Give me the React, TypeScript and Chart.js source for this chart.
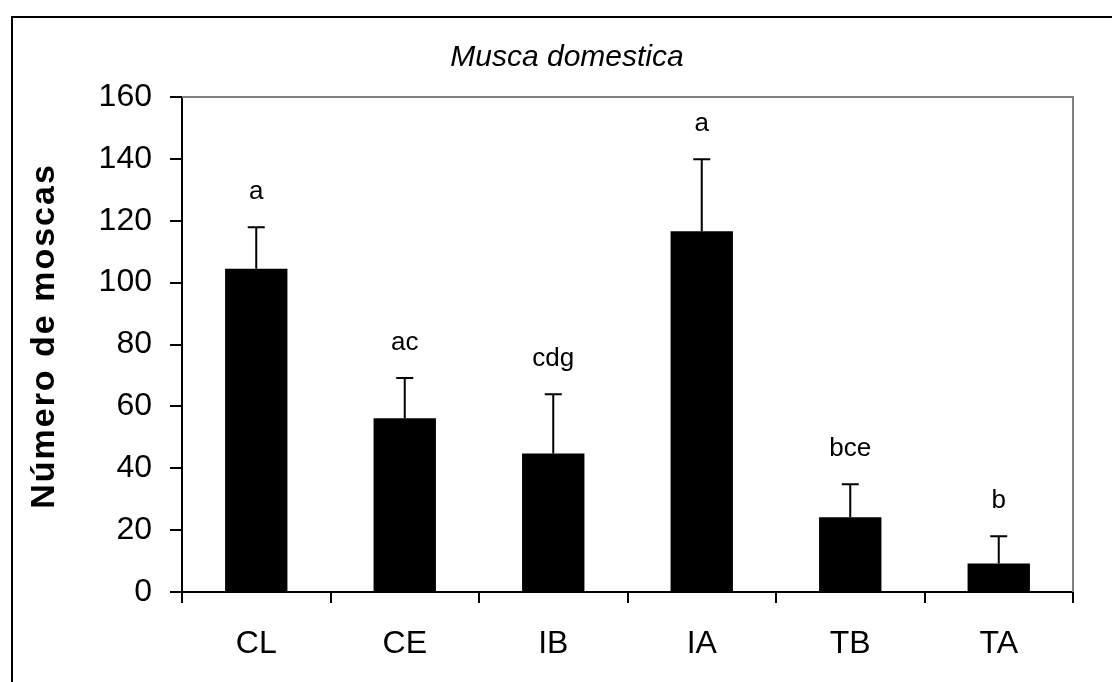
import React, { useEffect, useRef } from "react";
import { Chart, registerables } from "chart.js";

Chart.register(...registerables);

const categories = ["CL", "CE", "IB", "IA", "TB", "TA"];
const means = [104.5, 56.2, 44.8, 116.6, 24.2, 9.2];
const errors = [13.4, 13.0, 19.1, 23.3, 10.6, 8.8];
const letters = ["a", "ac", "cdg", "a", "bce", "b"];
const yTicks = [0, 20, 40, 60, 80, 100, 120, 140, 160];
const chartTitle = "Musca domestica";
const yTitle = "Número de moscas";

const FONT = "'Liberation Sans', Arial, sans-serif";

const decorPlugin = {
  id: "decor",
  beforeDraw(chart: any) {
    const ctx = chart.ctx;
    ctx.save();
    ctx.fillStyle = "#fff";
    ctx.fillRect(0, 0, chart.width, chart.height);
    ctx.strokeStyle = "#000";
    ctx.lineWidth = 2;
    ctx.strokeRect(12, 17, 3000, 3000);
    ctx.restore();
  },
  afterDraw(chart: any) {
    const ctx = chart.ctx;
    const area = chart.chartArea;
    const y = chart.scales.y;
    ctx.save();
    // gray top and right frame
    ctx.strokeStyle = "#808080";
    ctx.lineWidth = 2;
    ctx.beginPath();
    ctx.moveTo(area.left, area.top);
    ctx.lineTo(area.right, area.top);
    ctx.lineTo(area.right, area.bottom);
    ctx.stroke();

    // error bars and letters
    const meta = chart.getDatasetMeta(0);
    ctx.strokeStyle = "#000";
    ctx.lineWidth = 2;
    ctx.fillStyle = "#000";
    ctx.font = `26px ${FONT}`;
    ctx.textAlign = "center";
    ctx.textBaseline = "alphabetic";
    meta.data.forEach((bar: any, i: number) => {
      const cx = bar.x;
      const yTop = y.getPixelForValue(means[i]);
      const yCap = y.getPixelForValue(means[i] + errors[i]);
      ctx.beginPath();
      ctx.moveTo(cx, yTop);
      ctx.lineTo(cx, yCap);
      ctx.moveTo(cx - 8.5, yCap);
      ctx.lineTo(cx + 8.5, yCap);
      ctx.stroke();
      ctx.fillText(letters[i], cx, yCap - 28);
    });

    // chart title
    ctx.font = `italic 30px ${FONT}`;
    ctx.fillText(chartTitle, 567, 66);

    // y title
    ctx.translate(54, 336);
    ctx.rotate(-Math.PI / 2);
    ctx.font = `bold 34px ${FONT}`;
    try {
      (ctx as any).letterSpacing = "2px";
    } catch (e) {}
    ctx.fillText(yTitle, 0, 0);
    ctx.restore();
  },
};

export default function App() {
  const ref = useRef<HTMLCanvasElement>(null);
  useEffect(() => {
    if (!ref.current) return;
    const chart = new Chart(ref.current, {
      type: "bar",
      data: {
        labels: categories,
        datasets: [
          {
            data: means,
            backgroundColor: "#000",
            borderWidth: 0,
            barPercentage: 0.42,
            categoryPercentage: 1,
          },
        ],
      },
      options: {
        responsive: false,
        animation: false,
        layout: { padding: { left: 0, top: 97, right: 39, bottom: 0 } },
        plugins: {
          legend: { display: false },
          tooltip: { enabled: false },
          title: { display: false },
        },
        scales: {
          x: {
            offset: true,
            grid: {
              offset: true,
              drawOnChartArea: false,
              tickLength: 11,
              color: "#000",
              lineWidth: 2,
            },
            border: { color: "#000", width: 2 },
            ticks: {
              color: "#000",
              font: { size: 32, family: FONT },
              padding: 22,
            },
            afterFit: (scale: any) => {
              scale.height = 90;
            },
          },
          y: {
            min: 0,
            max: 160,
            afterBuildTicks: (scale: any) => {
              scale.ticks = yTicks.map((v) => ({ value: v }));
            },
            grid: {
              drawOnChartArea: false,
              tickLength: 12,
              color: "#000",
              lineWidth: 2,
            },
            border: { color: "#000", width: 2 },
            ticks: {
              color: "#000",
              font: { size: 32, family: FONT },
              padding: 18,
            },
            afterFit: (scale: any) => {
              scale.width = 182;
            },
          },
        },
      },
      plugins: [decorPlugin],
    });
    return () => chart.destroy();
  }, []);
  return (
    <div style={{ position: "absolute", left: 0, top: 0, width: 1112, height: 682 }}>
      <canvas ref={ref} width={1112} height={682} />
    </div>
  );
}
